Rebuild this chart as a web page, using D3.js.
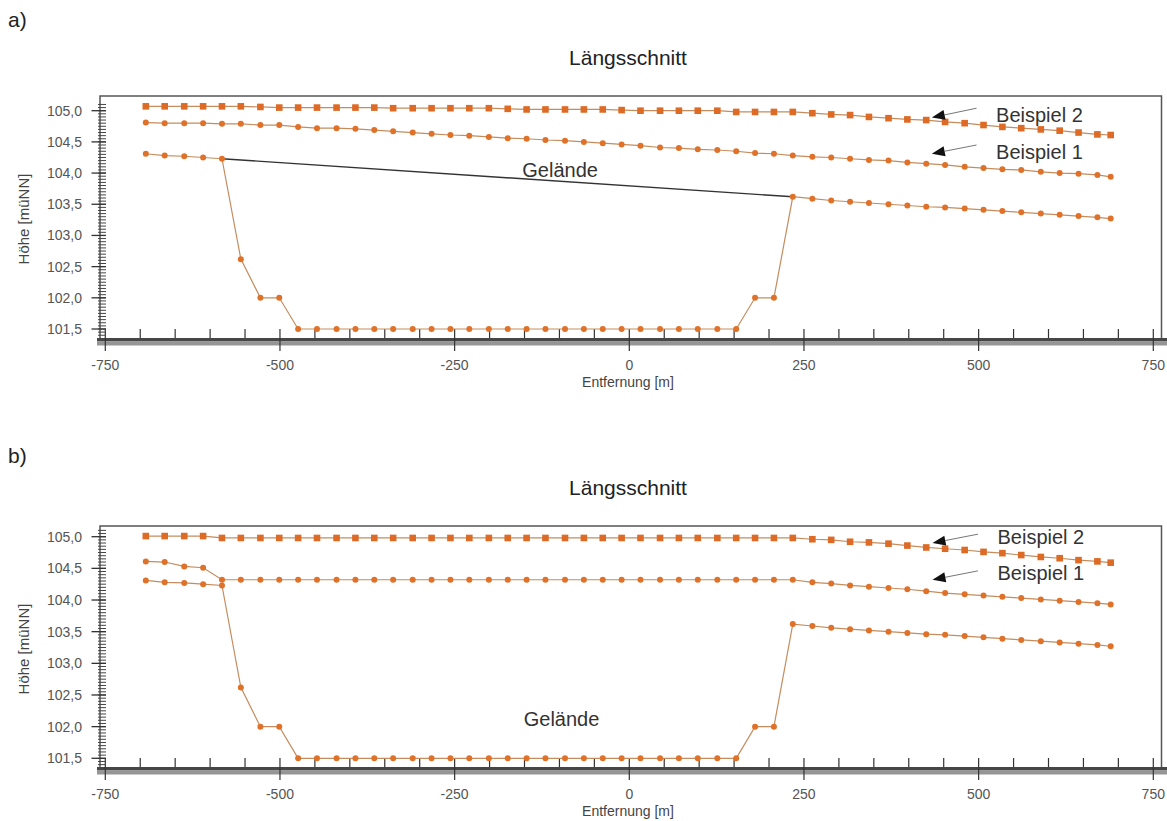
<!DOCTYPE html>
<html>
<head>
<meta charset="utf-8">
<script src="https://cdn.jsdelivr.net/npm/d3@7"></script>
<style>
  html, body { margin: 0; padding: 0; background: #fff; }
  svg { display: block; font-family: "Liberation Sans", Arial, sans-serif; }
</style>
</head>
<body>
<svg id="chart" width="1167" height="821"></svg>
<script>
// Stationierung der Profilpunkte [m]
const distanz = [
  -692, -665, -637, -610, -583, -556, -528, -501, -474, -447,
  -419, -392, -365, -338, -310, -283, -256, -229, -201, -174,
  -147, -120, -92, -65, -38, -11, 16, 44, 71, 98,
  126, 153, 180, 207, 234, 262, 289, 316, 343, 371,
  398, 425, 452, 480, 507, 534, 561, 589, 616, 643,
  670, 689
];

// Geländehöhe mit Einschnitt [müNN]
const gelaende = [
  104.31, 104.28, 104.27, 104.25, 104.23, 102.62, 102.00, 102.00, 101.50, 101.50,
  101.50, 101.50, 101.50, 101.50, 101.50, 101.50, 101.50, 101.50, 101.50, 101.50,
  101.50, 101.50, 101.50, 101.50, 101.50, 101.50, 101.50, 101.50, 101.50, 101.50,
  101.50, 101.50, 102.00, 102.00, 103.62, 103.59, 103.56, 103.54, 103.52, 103.50,
  103.48, 103.46, 103.45, 103.43, 103.41, 103.39, 103.37, 103.35, 103.33, 103.31,
  103.29, 103.27
];

// ursprüngliche Geländelinie über dem Einschnitt (Fall a)
const gelaendeLinieX = [-583, 234];
const gelaendeLinieY = [104.23, 103.62];

// Fall a) Wasserspiegel
const beispiel1A = [
  104.81, 104.80, 104.80, 104.80, 104.79, 104.79, 104.77, 104.77, 104.74, 104.72,
  104.72, 104.71, 104.69, 104.67, 104.65, 104.63, 104.61, 104.60, 104.58, 104.56,
  104.55, 104.53, 104.52, 104.50, 104.48, 104.46, 104.44, 104.41, 104.40, 104.38,
  104.37, 104.35, 104.32, 104.31, 104.28, 104.26, 104.25, 104.23, 104.21, 104.20,
  104.17, 104.15, 104.13, 104.10, 104.08, 104.06, 104.05, 104.02, 104.00, 103.99,
  103.97, 103.94
];
const beispiel2A = [
  105.07, 105.07, 105.07, 105.07, 105.07, 105.07, 105.06, 105.05, 105.05, 105.05,
  105.05, 105.05, 105.05, 105.04, 105.04, 105.04, 105.04, 105.04, 105.04, 105.03,
  105.02, 105.02, 105.02, 105.02, 105.02, 105.01, 105.00, 105.00, 105.00, 105.00,
  105.00, 104.98, 104.98, 104.98, 104.98, 104.96, 104.94, 104.93, 104.90, 104.88,
  104.86, 104.85, 104.82, 104.80, 104.77, 104.74, 104.72, 104.70, 104.68, 104.65,
  104.62, 104.61
];

// Fall b) Wasserspiegel
const beispiel1B = [
  104.61, 104.60, 104.53, 104.51, 104.32, 104.32, 104.32, 104.32, 104.32, 104.32,
  104.32, 104.32, 104.32, 104.32, 104.32, 104.32, 104.32, 104.32, 104.32, 104.32,
  104.32, 104.32, 104.32, 104.32, 104.32, 104.32, 104.32, 104.32, 104.32, 104.32,
  104.32, 104.32, 104.32, 104.32, 104.32, 104.28, 104.26, 104.23, 104.21, 104.19,
  104.17, 104.14, 104.11, 104.09, 104.07, 104.05, 104.03, 104.01, 103.99, 103.97,
  103.95, 103.93
];
const beispiel2B = [
  105.01, 105.01, 105.01, 105.01, 104.98, 104.98, 104.98, 104.98, 104.98, 104.98,
  104.98, 104.98, 104.98, 104.98, 104.98, 104.98, 104.98, 104.98, 104.98, 104.98,
  104.98, 104.98, 104.98, 104.98, 104.98, 104.98, 104.98, 104.98, 104.98, 104.98,
  104.98, 104.98, 104.98, 104.98, 104.98, 104.96, 104.95, 104.92, 104.91, 104.89,
  104.86, 104.83, 104.81, 104.79, 104.76, 104.74, 104.71, 104.68, 104.66, 104.63,
  104.61, 104.59
];

// Achsenbeschriftung
const xTickWerte = [-750, -500, -250, 0, 250, 500, 750];
const yTickWerte = [101.5, 102.0, 102.5, 103.0, 103.5, 104.0, 104.5, 105.0];
const titel = "Längsschnitt";
const xTitel = "Entfernung [m]";
const yTitel = "Höhe [müNN]";

const svg = d3.select("#chart");
const orange = "#e07129";
const linie = "#c58d5e";
const fmt = v => d3.format(".1f")(v).replace(".", ",");

function zeichneProfil(cfg, b1, b2, mitLinie) {
  const g = svg.append("g");
  const x = d3.scaleLinear().domain([-750, 750]).range([105.3, 1153.3]);
  const y = d3.scaleLinear().domain([101.5, 105]).range([cfg.yUnten, cfg.yOben]);
  const top = cfg.rahmenOben, bar = cfg.achse, left = 100, right = 1161.5;

  // Überschriften
  g.append("text").attr("x", 8).attr("y", cfg.kennungY).attr("font-size", 21)
    .attr("fill", "#222").text(cfg.kennung);
  g.append("text").attr("x", 628).attr("y", top - 31).attr("font-size", 21)
    .attr("text-anchor", "middle").attr("fill", "#222").text(titel);

  // Rahmen
  g.append("path").attr("d", `M${left},${bar} V${top} H${right} V${bar}`)
    .attr("fill", "none").attr("stroke", "#555").attr("stroke-width", 1.5);

  // x-Achse als Lineal
  g.append("rect").attr("x", 97).attr("y", bar).attr("width", 1070).attr("height", 3.5).attr("fill", "#464646");
  g.append("rect").attr("x", 97).attr("y", bar + 3.5).attr("width", 1070).attr("height", 4).attr("fill", "#959595");
  const xMinor = d3.range(-750, 751, 50);
  g.selectAll(".xminor").data(xMinor).join("line")
    .attr("x1", d => x(d)).attr("x2", d => x(d))
    .attr("y1", bar - 9).attr("y2", d => d % 250 === 0 ? bar + 13 : bar)
    .attr("stroke", "#333").attr("stroke-width", 1.2);
  g.selectAll(".xlab").data(xTickWerte).join("text")
    .attr("x", d => x(d)).attr("y", bar + 32).attr("text-anchor", "middle")
    .attr("font-size", 14).attr("fill", "#555").text(d => d);
  g.append("text").attr("x", 628).attr("y", bar + 49).attr("text-anchor", "middle")
    .attr("font-size", 14).attr("fill", "#444").text(xTitel);

  // y-Achse als Lineal
  const yMinor = d3.range(0, 76).map(i => 101.35 + i * 0.05).filter(v => y(v) >= top + 2 && y(v) <= bar - 1);
  g.selectAll(".yminor").data(yMinor).join("line")
    .attr("x1", 98).attr("x2", 106)
    .attr("y1", d => y(d)).attr("y2", d => y(d))
    .attr("stroke", "#444").attr("stroke-width", 1);
  g.selectAll(".ymajor").data(yTickWerte).join("line")
    .attr("x1", 91.5).attr("x2", 106)
    .attr("y1", d => y(d)).attr("y2", d => y(d))
    .attr("stroke", "#333").attr("stroke-width", 1.3);
  g.selectAll(".ylab").data(yTickWerte).join("text")
    .attr("x", 82).attr("y", d => y(d) + 5).attr("text-anchor", "end")
    .attr("font-size", 14).attr("fill", "#555").text(fmt);
  g.append("text")
    .attr("transform", `translate(29,${cfg.yTitelMitte}) rotate(-90)`)
    .attr("text-anchor", "middle").attr("font-size", 15).attr("fill", "#444").text(yTitel);

  // Reihen
  const line = (werte) => d3.line().x((d, i) => x(distanz[i])).y(d => y(d))(werte);
  if (mitLinie) {
    const gl = gelaendeLinieX.map((d, i) => [x(d), y(gelaendeLinieY[i])]);
    g.append("path").attr("d", d3.line()(gl)).attr("fill", "none")
      .attr("stroke", "#333").attr("stroke-width", 1.4);
  }
  [gelaende, b1, b2].forEach(w => {
    g.append("path").attr("d", line(w)).attr("fill", "none")
      .attr("stroke", linie).attr("stroke-width", 1.2);
  });
  const punkte = werte => werte.map((v, i) => ({ x: distanz[i], v }));
  g.selectAll(".pg").data(punkte(gelaende)).join("circle")
    .attr("cx", d => x(d.x)).attr("cy", d => y(d.v)).attr("r", 3).attr("fill", orange);
  g.selectAll(".p1").data(punkte(b1)).join("circle")
    .attr("cx", d => x(d.x)).attr("cy", d => y(d.v)).attr("r", 3).attr("fill", orange);
  g.selectAll(".p2").data(punkte(b2)).join("rect")
    .attr("x", d => x(d.x) - 3.3).attr("y", d => y(d.v) - 3.3)
    .attr("width", 6.6).attr("height", 6.6).attr("fill", "#dd6a25");

  // Beschriftungen mit Pfeilen
  cfg.pfeile.forEach(p => {
    const x0 = x(p.von[0]), y0 = y(p.von[1]), x1 = x(p.nach[0]), y1 = y(p.nach[1]);
    const ang = Math.atan2(y1 - y0, x1 - x0);
    const len = 13, w = 5;
    const bx = x1 - len * Math.cos(ang), by = y1 - len * Math.sin(ang);
    g.append("line").attr("x1", x0).attr("y1", y0).attr("x2", bx).attr("y2", by)
      .attr("stroke", "#777").attr("stroke-width", 1);
    g.append("path")
      .attr("d", `M${x1},${y1} L${bx - w * Math.sin(ang)},${by + w * Math.cos(ang)} L${bx + w * Math.sin(ang)},${by - w * Math.cos(ang)} Z`)
      .attr("fill", "#111");
    g.append("text").attr("x", x(p.text[0])).attr("y", y(p.text[1]) + 7)
      .attr("font-size", 20).attr("fill", "#333").text(p.label);
  });
  g.append("text").attr("x", x(cfg.gelaendeText[0])).attr("y", y(cfg.gelaendeText[1]) + 7)
    .attr("text-anchor", "middle").attr("font-size", 20).attr("fill", "#333").text("Gelände");
}

zeichneProfil({
  kennung: "a)", kennungY: 27, rahmenOben: 96, yOben: 110.7, yUnten: 329, achse: 338, yTitelMitte: 219,
  pfeile: [
    { von: [497, 105.04], nach: [433, 104.89], text: [525, 104.93], label: "Beispiel 2" },
    { von: [497, 104.45], nach: [433, 104.31], text: [525, 104.34], label: "Beispiel 1" }
  ],
  gelaendeText: [-99, 104.05]
}, beispiel1A, beispiel2A, true);

zeichneProfil({
  kennung: "b)", kennungY: 463, rahmenOben: 526, yOben: 536.7, yUnten: 758.3, achse: 767, yTitelMitte: 649,
  pfeile: [
    { von: [499, 105.04], nach: [434, 104.90], text: [527, 105.0], label: "Beispiel 2" },
    { von: [499, 104.46], nach: [434, 104.32], text: [527, 104.42], label: "Beispiel 1" }
  ],
  gelaendeText: [-97, 102.12]
}, beispiel1B, beispiel2B, false);
</script>
</body>
</html>
